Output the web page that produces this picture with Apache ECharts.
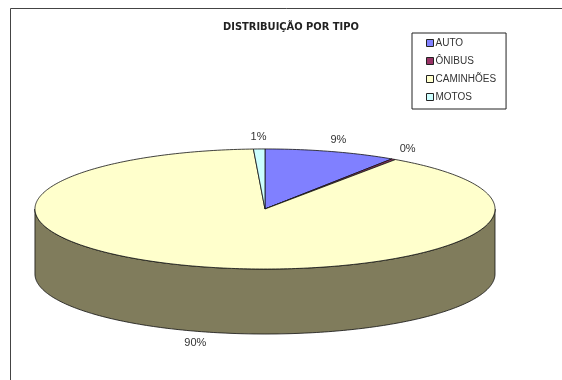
<!DOCTYPE html>
<html><head><meta charset="utf-8">
<script src="https://cdn.jsdelivr.net/npm/echarts@6/dist/echarts.min.js"></script>
<style>html,body{margin:0;padding:0;background:#fff}#c{width:562px;height:380px}</style>
</head><body><div id="c"></div>
<script>
var categories = ['AUTO', 'ÔNIBUS', 'CAMINHÕES', 'MOTOS'];
var values = [9.3, 0.3, 89.6, 0.8];
var colors = ['#8080FF', '#993366', '#FFFFCC', '#CCFFFF'];
var titleText = 'DISTRIBUIÇÃO POR TIPO';

// layout (fractions of chart width / height)
var layout = {cx: 0.4715, cy: 0.55, rx: 0.4093, ry: 0.158, depth: 0.171};

var total = values.reduce(function (a, b) { return a + b; }, 0);
var starts = [], ends = [], acc = 0;
values.forEach(function (v) { starts.push(acc / total * 360); acc += v; ends.push(acc / total * 360); });

function shade(hex, f) {
  var n = parseInt(hex.slice(1), 16);
  var r = (n >> 16) & 255, g = (n >> 8) & 255, b = n & 255;
  return 'rgb(' + Math.round(r * f) + ',' + Math.round(g * f * 0.97) + ',' + Math.round(b * f * 0.9) + ')';
}
function pt(g, deg, dy) {
  var r = deg * Math.PI / 180;
  return [g.cx + g.rx * Math.sin(r), g.cy - g.ry * Math.cos(r) + (dy || 0)];
}
function arc(g, a, b, dy) {
  var n = Math.max(2, Math.ceil(Math.abs(b - a) / 1));
  var out = [];
  for (var k = 0; k <= n; k++) out.push(pt(g, a + (b - a) * k / n, dy));
  return out;
}
function makeRender(i) {
  return function (params, api) {
    var W = api.getWidth(), H = api.getHeight();
    var g = {cx: W * layout.cx, cy: H * layout.cy, rx: W * layout.rx, ry: H * layout.ry, d: H * layout.depth};
    var a = starts[i], b = ends[i];
    var children = [];
    var s = Math.max(a, 90), e = Math.min(b, 270);
    if (e > s) {
      var top = arc(g, s, e, 0), bot = arc(g, e, s, g.d);
      children.push({type: 'polygon', shape: {points: top.concat(bot)},
        style: {fill: shade(colors[i], 0.5), stroke: '#111', lineWidth: 0.8}});
    }
    var pts = [[g.cx, g.cy]].concat(arc(g, a, b, 0));
    children.push({type: 'polygon', shape: {points: pts},
      style: {fill: colors[i], stroke: '#111', lineWidth: 0.8}});
    var m = (a + b) / 2, r = m * Math.PI / 180;
    var lx = g.cx + (g.rx + 25) * Math.sin(r);
    var ly = g.cy - (g.ry + 12) * Math.cos(r) + ((m > 90 && m < 270) ? g.d : 0);
    children.push({type: 'text', x: lx, y: ly, style: {
      text: Math.round(api.value(0) / total * 100) + '%',
      fill: '#333', font: '11px "Liberation Sans", Arial, sans-serif',
      align: 'center', verticalAlign: 'middle'}});
    return {type: 'group', children: children};
  };
}

var series = categories.map(function (c, i) {
  return {
    type: 'custom', name: c, coordinateSystem: 'none',
    itemStyle: {color: colors[i]},
    renderItem: makeRender(i),
    data: [[values[i]]],
    animation: false
  };
});

var chart = echarts.init(document.getElementById('c'));
chart.setOption({
  backgroundColor: '#fff',
  animation: false,
  title: {
    text: titleText, left: 223, top: 22, padding: 0,
    textStyle: {fontFamily: '"Liberation Sans Narrow", "DejaVu Sans Condensed", Arial', fontWeight: 'bold', fontSize: 11, color: '#222'}
  },
  legend: {
    data: categories, orient: 'vertical', left: 412, top: 33,
    padding: [5, 10, 7, 14], itemGap: 8, itemWidth: 7, itemHeight: 7,
    icon: 'rect', borderColor: '#222', borderWidth: 1,
    itemStyle: {borderColor: '#222', borderWidth: 1},
    textStyle: {fontFamily: '"Liberation Sans", Arial', fontSize: 10, color: '#333', padding: [0, 0, 0, -3]},
    selectedMode: false
  },
  graphic: [{
    type: 'rect', left: 8, top: 6, z: -1,
    shape: {width: 600, height: 400},
    style: {fill: 'none', stroke: '#444', lineWidth: 1}
  }],
  series: series
});
</script></body></html>
